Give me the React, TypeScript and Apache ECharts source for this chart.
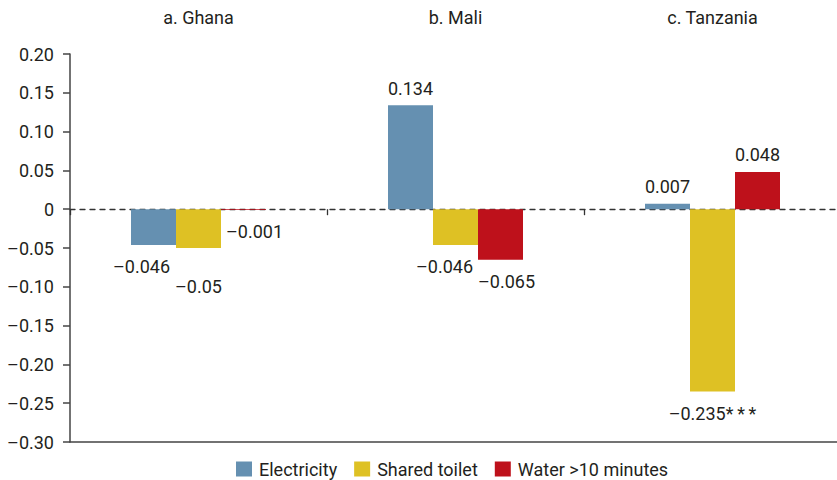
import React, { useEffect, useRef } from "react";
import * as echarts from "echarts";

const countries = ["a. Ghana", "b. Mali", "c. Tanzania"];
const seriesNames = ["Electricity", "Shared toilet", "Water >10 minutes"];
const electricity = [-0.046, 0.134, 0.007];
const sharedToilet = [-0.05, -0.046, -0.235];
const water = [-0.001, -0.065, 0.048];
const significance = [
  ["", "", ""],
  ["", "", "*\u2009*\u2009*"],
  ["", "", ""],
];
const yTicks = { min: -0.3, max: 0.2, interval: 0.05 };

// label nudges [series][country] -> [dx, dy]
const labelNudges: number[][][] = [
  [[-12, 0], [0, 0], [0, 0]],
  [[0, 16], [-11, 0], [0, 0]],
  [[11, 0], [6, 0], [0, 0]],
];

const colors = ["#6590b1", "#dec124", "#be111b"];
const FONT = "Roboto";
const FS = 18;
const TEXT = "#231f20";

const fmt = (v: number) => {
  if (Math.abs(v) < 1e-9) return "0";
  return (v < 0 ? "\u2013" : "") + String(Math.abs(v));
};

export default function App() {
  const ref = useRef<HTMLDivElement>(null);
  useEffect(() => {
    if (!ref.current) return;
    const chart = echarts.init(ref.current, undefined, { renderer: "svg" });
    const all = [electricity, sharedToilet, water];
    const series = all.map((vals, si) => ({
      name: seriesNames[si],
      type: "bar",
      xAxisIndex: 0,
      yAxisIndex: 0,
      barWidth: 45,
      barGap: "0%",
      itemStyle: { color: colors[si] },
      data: vals.map((v, ci) => ({
        value: v,
        label: {
          show: true,
          position: v >= 0 ? "top" : "bottom",
          distance: v >= 0 ? 8 : 13,
          offset: labelNudges[si][ci],
          formatter: () => fmt(v) + significance[si][ci],
          fontFamily: FONT,
          fontSize: FS,
          color: TEXT,
        },
      })),
    }));
    chart.setOption({
      animation: false,
      textStyle: { fontFamily: FONT },
      grid: { left: 70, right: 0, top: 54, bottom: 38, containLabel: false },
      legend: {
        data: seriesNames,
        left: 236,
        top: 460,
        padding: 0,
        icon: "rect",
        itemWidth: 16,
        itemHeight: 15,
        itemGap: 17,
        textStyle: { fontFamily: FONT, fontSize: FS, color: TEXT, padding: [0, 0, 0, 2] },
      },
      xAxis: [
        {
          type: "category",
          data: countries,
          position: "bottom",
          axisLine: {
            show: true,
            onZero: true,
            lineStyle: { color: "#333", width: 1.3, type: [5, 5] },
          },
          axisTick: { show: true, interval: 0, length: 6, lineStyle: { color: "#333", width: 1.3 } },
          axisLabel: { show: false },
          splitLine: { show: false },
        },
        {
          type: "category",
          data: countries,
          position: "top",
          axisLine: { show: false, onZero: false },
          axisTick: { show: false },
          axisLabel: { show: true, margin: 28, fontFamily: FONT, fontSize: FS, color: TEXT },
          splitLine: { show: false },
        },
        {
          type: "category",
          data: countries,
          position: "bottom",
          axisLine: { show: true, onZero: false, lineStyle: { color: "#444", width: 1.5 } },
          axisTick: { show: false },
          axisLabel: { show: false },
          splitLine: { show: false },
        },
      ],
      yAxis: {
        type: "value",
        min: yTicks.min,
        max: yTicks.max,
        interval: yTicks.interval,
        axisLine: { show: true, lineStyle: { color: "#444", width: 1.5 } },
        axisTick: { show: true, length: 7, lineStyle: { color: "#444", width: 1.5 } },
        axisLabel: {
          margin: 16,
          fontFamily: FONT,
          fontSize: FS,
          color: TEXT,
          formatter: (v: number) =>
            Math.abs(v) < 1e-9 ? "0" : (v < 0 ? "\u2013" : "") + Math.abs(v).toFixed(2),
        },
        splitLine: { show: false },
      },
      series,
    });
    return () => chart.dispose();
  }, []);
  return (
    <div style={{ position: "absolute", left: 0, top: 0, width: 837, height: 480, overflow: "hidden" }}>
      <div ref={ref} style={{ width: 841, height: 480 }} />
    </div>
  );
}
